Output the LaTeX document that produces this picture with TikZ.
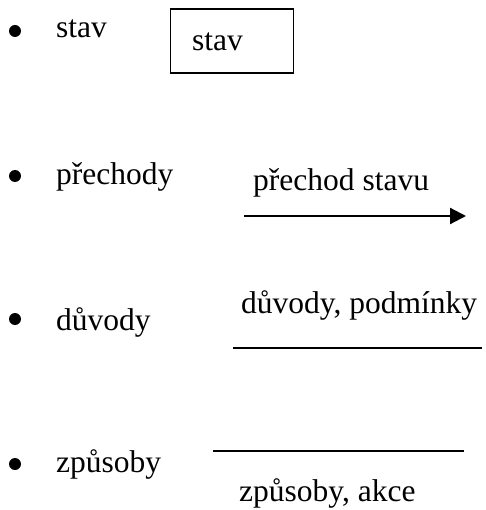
\documentclass[tikz,border=0pt]{standalone}
\usepackage{fontspec}
\setmainfont{Liberation Serif}
\usetikzlibrary{arrows.meta}
\begin{document}
\begin{tikzpicture}[x=1pt,y=-1pt,
  every node/.style={font=\fontsize{31.5}{37}\selectfont},
  dot/.style={circle,fill=black,inner sep=0pt,minimum size=12pt},
  item/.style={anchor=base west,inner sep=0pt},
  lbl/.style={anchor=base west,inner sep=0pt},
  rule/.style={line width=1.8pt},
  statebox/.style={draw,line width=1.2pt,minimum width=123pt,minimum height=64pt,
    inner sep=0pt,text height=20pt,text depth=0pt,text width=80pt,align=left}]
\useasboundingbox (0,0) rectangle (485,510);

% legend bullets and item names
\node[dot] (b1) at (15,31) {};
\node[item] (i1) at (56,38) {stav};
\node[dot] (b2) at (15,176) {};
\node[item] (i2) at (56,185) {přechody};
\node[dot] (b3) at (15,319) {};
\node[item] (i3) at (56,330) {důvody};
\node[dot] (b4) at (15,464) {};
\node[item] (i4) at (56,472) {způsoby};

% state symbol
\node[statebox] (box) at (232,41) {stav};

% transition symbol
\node[lbl] (tlabel) at (253,190.5) {přechod stavu};
\coordinate (ta) at (244,216);
\coordinate (tb) at (466,216);
\draw[line width=2.2pt,-{Triangle[length=16pt,width=16pt]}] (ta) -- (tb);

% condition symbol
\node[lbl] (clabel) at (241,313) {důvody, podmínky};
\coordinate (ca) at (233,348);
\coordinate (cb) at (482,348);
\draw[rule] (ca) -- (cb);

% action symbol
\coordinate (aa) at (213,451);
\coordinate (ab) at (464,451);
\draw[rule] (aa) -- (ab);
\node[lbl] (alabel) at (239,501.5) {způsoby, akce};
\end{tikzpicture}
\end{document}
